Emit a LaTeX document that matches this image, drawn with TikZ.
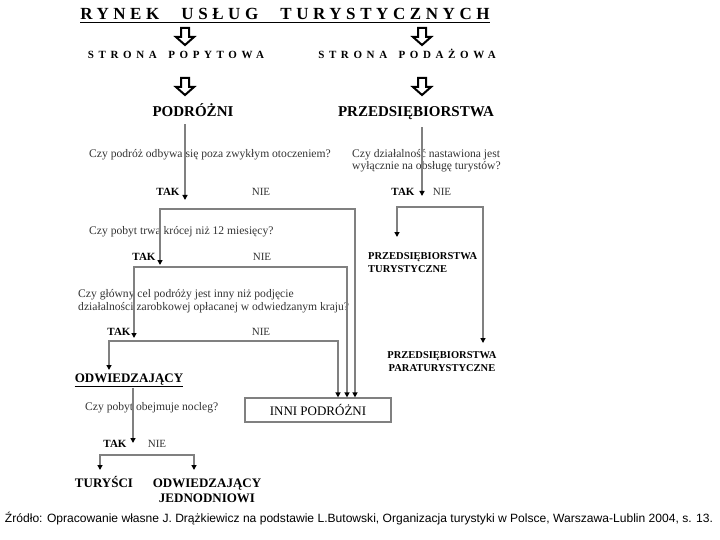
\documentclass[tikz,border=0pt]{standalone}
\usepackage{fontspec}
\usepackage{graphicx}
\setmainfont{Liberation Serif}
\newfontfamily\captionfont{Liberation Sans}
\usetikzlibrary{arrows.meta}
\usetikzlibrary{positioning}
\definecolor{linegray}{RGB}{128,128,128}
\tikzstyle{heading} = [anchor=base, inner sep=0pt, font=\fontsize{17}{20}\selectfont\bfseries\addfontfeature{LetterSpace=27}]
\tikzstyle{sidelabel} = [anchor=base, inner sep=0pt, font=\fontsize{11}{13}\selectfont\bfseries\addfontfeature{LetterSpace=42}]
\tikzstyle{category} = [anchor=base, inner sep=0pt, font=\fontsize{15}{18}\selectfont\bfseries]
\tikzstyle{leaf} = [anchor=base, inner sep=0pt, align=center, font=\fontsize{13}{15}\selectfont\bfseries]
\tikzstyle{firm} = [anchor=base, inner sep=0pt, font=\fontsize{10.5}{13}\selectfont\bfseries]
\tikzstyle{question} = [anchor=base west, inner sep=0pt, align=left, text=black!80, font=\fontsize{11.6}{12.5}\selectfont]
\tikzstyle{yesanswer} = [anchor=base, inner sep=0pt, font=\fontsize{11}{13}\selectfont\bfseries]
\tikzstyle{noanswer} = [anchor=base, inner sep=0pt, text=black!80, font=\fontsize{11}{13}\selectfont]
\tikzstyle{result} = [rectangle, draw=linegray, line width=1.2pt, minimum width=146pt, minimum height=24pt, font=\fontsize{13}{15}\selectfont]
\tikzstyle{flow} = [line width=1.5pt, draw=linegray, >={Triangle[length=5pt,width=5pt,color=black]}]
\tikzset{hollowdown/.pic={\draw[line width=2pt] (-4,0) -- (4,0) -- (4,9) -- (9,9) -- (0,17) -- (-9,9) -- (-4,9) -- cycle;}}

\begin{document}
\begin{tikzpicture}[x=1pt, y=-1pt]
    \useasboundingbox (0,0) rectangle (720,540);
    \node[heading] (title) at (285,20) {RYNEK\hspace{22pt}USŁUG\hspace{22pt}TURYSTYCZNYCH};
    \draw[line width=1pt] ([yshift=-3pt]title.base west) -- ([yshift=-3pt]title.base east);
    \pic at (185,28) {hollowdown};
    \pic at (422,28) {hollowdown};
    \node[sidelabel] (demand) at (176,59) {STRONA\ \hspace{4pt}POPYTOWA};
    \node[sidelabel] (supply) at (407,59) {STRONA\ \hspace{4pt}PODAŻOWA};
    \pic at (185,78) {hollowdown};
    \pic at (422,78) {hollowdown};
    \node[category] (travellers) at (193,117) {PODRÓŻNI};
    \node[category] (firms) at (416,117) {PRZEDSIĘBIORSTWA};

    % left branch
    \node[question] (q1) at (89,158) {Czy podróż odbywa się poza zwykłym otoczeniem?};
    \node[yesanswer] (tak1) at (168,196) {TAK};
    \node[noanswer] (nie1) at (261,196) {NIE};
    \node[question] (q2) at (89,234) {Czy pobyt trwa krócej niż 12 miesięcy?};
    \node[yesanswer] (tak2) at (144,260) {TAK};
    \node[noanswer] (nie2) at (262,260) {NIE};
    \node[question] (q3) at (78,310) {Czy główny cel podróży jest inny niż podjęcie\\działalności zarobkowej opłacanej w odwiedzanym kraju?};
    \node[yesanswer] (tak3) at (119,335) {TAK};
    \node[noanswer] (nie3) at (261,335) {NIE};
    \node[leaf] (odw) at (129,382) {ODWIEDZAJĄCY};
    \draw[line width=0.9pt] ([yshift=-4pt]odw.base west) -- ([yshift=-4pt]odw.base east);
    \node[question] (q4) at (85,410) {Czy pobyt obejmuje nocleg?};
    \node[result] (inni) at (318,410) {INNI PODRÓŻNI};
    \node[yesanswer] (tak4) at (115,447) {TAK};
    \node[noanswer] (nie4) at (157,447) {NIE};
    \node[leaf] (tury) at (104,487) {TURYŚCI};
    \node[leaf] (odwj) at (207,502) {ODWIEDZAJĄCY\\JEDNODNIOWI};

    % right branch
    \node[question] (q1r) at (352,170) {Czy działalność nastawiona jest\\wyłącznie na obsługę turystów?};
    \node[yesanswer] (tak1r) at (403,196) {TAK};
    \node[noanswer] (nie1r) at (442,196) {NIE};
    \node[firm, align=left, anchor=base west] (turyst) at (368,272) {PRZEDSIĘBIORSTWA\\TURYSTYCZNE};
    \node[firm, align=center] (parat) at (442,371) {PRZEDSIĘBIORSTWA\\PARATURYSTYCZNE};

    \node[anchor=base, inner sep=0pt] (zrodlo) at (359,522) {\resizebox{708pt}{\height}{\captionfont\fontsize{12}{14}\selectfont Źródło: Opracowanie własne J. Drążkiewicz na podstawie L.Butowski, Organizacja turystyki w Polsce, Warszawa-Lublin 2004, s. 13.}};

    \coordinate (t1) at (185,200);
    \coordinate (a1) at (160,265);
    \coordinate (k1) at (355,209);
    \coordinate (a2) at (134,338);
    \coordinate (k2) at (347,267);
    \coordinate (a3) at (109,370);
    \coordinate (k3) at (338,341);
    \coordinate (t4) at (133,443);
    \coordinate (a4l) at (100,470);
    \coordinate (a4r) at (194,470);
    \coordinate (k4) at (194,455);
    \coordinate (t1r) at (422,196);
    \coordinate (ar1) at (397,237);
    \coordinate (kr) at (483,207);
    \coordinate (ar2) at (483,343);

    \draw[flow,->, shorten <=7pt] (travellers.south -| t1) -- (t1);
    \draw[flow,<->] (a1) |- (k1) -- (inni.north -| k1);
    \draw[flow,<->] (a2) |- (k2) -- (inni.north -| k2);
    \draw[flow,<->] (a3) |- (k3) -- (inni.north -| k3);
    \draw[flow,->, shorten <=3pt] (odw.south -| t4) -- (t4);
    \draw[flow,<->] (a4l) |- (k4) -- (a4r);
    \draw[flow,->, shorten <=7pt] (firms.south -| t1r) -- (t1r);
    \draw[flow,<->] (ar1) |- (kr) -- (ar2);
\end{tikzpicture}
\end{document}
